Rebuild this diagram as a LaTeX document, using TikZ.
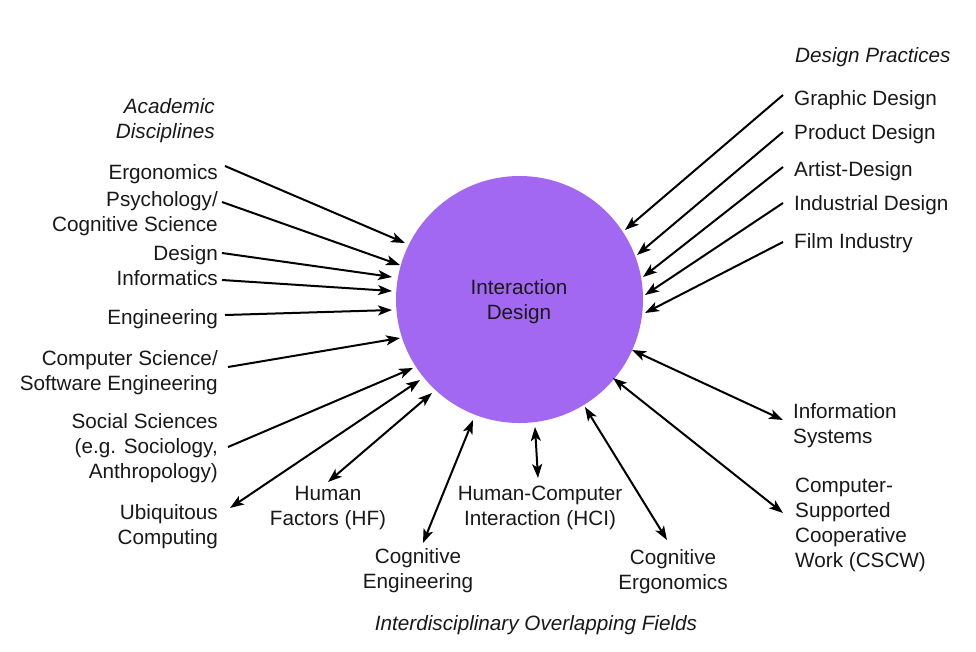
\documentclass[tikz,border=0pt]{standalone}
\usepackage{fontspec}
\setmainfont{Liberation Sans}
\usetikzlibrary{arrows.meta}
\definecolor{idpurple}{RGB}{163,104,242}
\definecolor{txt}{RGB}{25,25,25}
\begin{document}
\begin{tikzpicture}[x=1pt,y=-1pt,
  lbl/.style={font=\fontsize{20.7}{25}\selectfont, text=txt, inner sep=0pt,
    execute at begin node=\strut, execute at end node=\strut},
  lleft/.style={lbl, anchor=east, align=right},
  lright/.style={lbl, anchor=west, align=left},
  lmid/.style={lbl, anchor=center, align=center},
  head/.style={font=\fontsize{20.7}{25}\selectfont\itshape},
  arr/.style={line width=2pt, draw=black, -{Stealth[length=14pt,width=10pt,inset=3.5pt]}},
  barr/.style={line width=2pt, draw=black, {Stealth[length=14pt,width=10pt,inset=3.5pt]}-{Stealth[length=14pt,width=10pt,inset=3.5pt]}}]
\useasboundingbox (0,0) rectangle (976,651);
\fill[white] (0,0) rectangle (976,651);

% central circle
\node[circle, fill=idpurple, minimum size=247pt, inner sep=0pt] (c) at (519.5,299.5) {};
\node[lmid] (ctext) at (519,303) {Interaction\\Design};

% headings
\node[lleft, head] (acad) at (215,122.5) {Academic\\Disciplines};
\node[lright, head] (dprac) at (795,57.5) {Design Practices};
\node[lmid, head] (inter) at (536,625.5) {Interdisciplinary Overlapping Fields};

% academic disciplines
\node[lleft] (ergo) at (218,174.5) {Ergonomics};
\node[lleft] (psych) at (218,215) {Psychology/\\Cognitive Science};
\node[lleft] (design) at (218,255.5) {Design};
\node[lleft] (inform) at (218,280.5) {Informatics};
\node[lleft] (eng) at (218,319.5) {Engineering};
\node[lleft] (cs) at (218,374) {Computer Science/\\Software Engineering};
\node[lleft] (soc) at (218,449.5) {Social Sciences\\(e.g. Sociology,\\Anthropology)};
\node[lleft] (ubi) at (218,528.5) {Ubiquitous\\Computing};

% design practices
\node[lright] (graph) at (794,100.5) {Graphic Design};
\node[lright] (prod) at (794,134.5) {Product Design};
\node[lright] (art) at (794,171.5) {Artist-Design};
\node[lright] (ind) at (794,205.5) {Industrial Design};
\node[lright] (film) at (794,243.5) {Film Industry};

% overlapping fields
\node[lmid] (hf) at (328,510) {Human\\Factors (HF)};
\node[lmid] (ce) at (418,572) {Cognitive\\Engineering};
\node[lmid] (hci) at (540,510) {Human-Computer\\Interaction (HCI)};
\node[lmid] (cerg) at (673,573) {Cognitive\\Ergonomics};
\node[lright] (is) at (793,427) {Information\\Systems};
\node[lright] (cscw) at (795,527) {Computer-\\Supported\\Cooperative\\Work (CSCW)};

% connector end points
\coordinate (ergo-a) at (225,166);   \coordinate (ergo-b) at (405,243);
\coordinate (psych-a) at (222,202);  \coordinate (psych-b) at (400,265);
\coordinate (design-a) at (222,253); \coordinate (design-b) at (392,277);
\coordinate (inform-a) at (222,280); \coordinate (inform-b) at (392,291);
\coordinate (eng-a) at (225,315);    \coordinate (eng-b) at (392,310);
\coordinate (cs-a) at (228,367);     \coordinate (cs-b) at (400,338);
\coordinate (soc-a) at (228,447);    \coordinate (soc-b) at (413,368);
\coordinate (ubi-a) at (230,508);    \coordinate (ubi-b) at (420,380);
\coordinate (hf-a) at (328,482);     \coordinate (hf-b) at (432,393);
\coordinate (ce-a) at (423,543);     \coordinate (ce-b) at (473,420);
\coordinate (hci-a) at (538,478);    \coordinate (hci-b) at (535,427);
\coordinate (cerg-a) at (667,540);   \coordinate (cerg-b) at (585,407);
\coordinate (cscw-a) at (783,513);   \coordinate (cscw-b) at (613,378);
\coordinate (is-a) at (783,420);     \coordinate (is-b) at (632,350);
\coordinate (graph-a) at (783,95);   \coordinate (graph-b) at (625,230);
\coordinate (prod-a) at (783,132);   \coordinate (prod-b) at (637,255);
\coordinate (art-a) at (783,167);    \coordinate (art-b) at (643,277);
\coordinate (ind-a) at (783,203);    \coordinate (ind-b) at (645,295);
\coordinate (film-a) at (783,242);   \coordinate (film-b) at (645,313);

% incoming arrows
\foreach \n in {ergo,psych,design,inform,eng,cs,soc,graph,prod,art,ind,film}
  \draw[arr] (\n-a) -- (\n-b);
% two-way arrows
\foreach \n in {ubi,hf,ce,hci,cerg,cscw,is}
  \draw[barr] (\n-a) -- (\n-b);
\end{tikzpicture}
\end{document}
